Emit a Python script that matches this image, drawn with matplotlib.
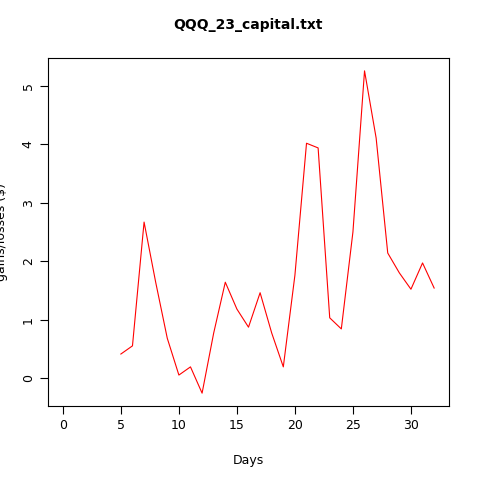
import matplotlib
matplotlib.use("Agg")
import matplotlib.pyplot as plt

days = list(range(5, 33))
gains = [0.41, 0.55, 2.67, 1.64, 0.68, 0.05, 0.19, -0.26, 0.77, 1.64, 1.18, 0.87,
         1.46, 0.77, 0.19, 1.76, 4.02, 3.94, 1.03, 0.84, 2.5, 5.26, 4.11, 2.14,
         1.80, 1.52, 1.97, 1.54]

fig = plt.figure(figsize=(4.8, 4.8), dpi=100)
ax = fig.add_axes([48/480, 1-406/480, (449-48)/480, (406-58)/480])
ax.plot(days, gains, color="red", linewidth=0.8)
ax.set_xlim(-1.28, 33.28)
ax.set_ylim(-0.48, 5.48)
ax.set_xticks([0, 5, 10, 15, 20, 25, 30])
ax.set_yticks([0, 1, 2, 3, 4, 5])
for lbl in ax.get_yticklabels():
    lbl.set_rotation(90); lbl.set_va("center")
ax.tick_params(labelsize=9, length=6)
ax.set_xlabel("Days", fontsize=9, labelpad=16)
ax.set_ylabel("gains/losses ($)", fontsize=9, labelpad=10)
ax.set_title("QQQ_23_capital.txt", fontsize=10, fontweight="bold", pad=21)
fig.savefig("out.png")
